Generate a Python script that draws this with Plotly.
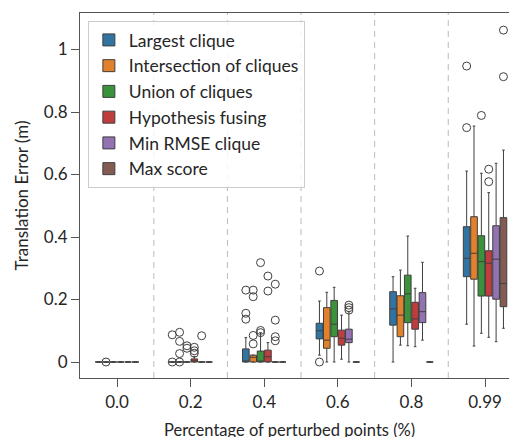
import plotly.graph_objects as go

categories = ["0.0", "0.2", "0.4", "0.6", "0.8", "0.99"]
methods = ["Largest clique", "Intersection of cliques", "Union of cliques",
           "Hypothesis fusing", "Min RMSE clique", "Max score"]
colors = ["#3274a1", "#e1812c", "#3a923a", "#c03d3e", "#9372b2", "#845b53"]

# per method: values for each category (0.0, 0.2, 0.4, 0.6, 0.8, 0.99)
q1 = {
    "Largest clique":          [0, 0, 0,     0.074, 0.118, 0.273],
    "Intersection of cliques": [0, 0, 0,     0.044, 0.081, 0.265],
    "Union of cliques":        [0, 0, 0,     0.081, 0.126, 0.211],
    "Hypothesis fusing":       [0, 0, 0,     0.054, 0.105, 0.211],
    "Min RMSE clique":         [0, 0, 0,     0.062, 0.126, 0.201],
    "Max score":               [0, 0, 0,     0,     0,     0.177],
}
median = {
    "Largest clique":          [0, 0, 0.002, 0.100, 0.170, 0.332],
    "Intersection of cliques": [0, 0, 0.015, 0.070, 0.150, 0.348],
    "Union of cliques":        [0, 0, 0.003, 0.121, 0.218, 0.321],
    "Hypothesis fusing":       [0, 0.004, 0.017, 0.076, 0.138, 0.316],
    "Min RMSE clique":         [0, 0, 0,     0.073, 0.161, 0.329],
    "Max score":               [0, 0, 0,     0,     0,     0.251],
}
q3 = {
    "Largest clique":          [0, 0, 0.042, 0.124, 0.225, 0.433],
    "Intersection of cliques": [0, 0, 0.022, 0.174, 0.212, 0.465],
    "Union of cliques":        [0, 0, 0.035, 0.197, 0.278, 0.404],
    "Hypothesis fusing":       [0, 0.010, 0.038, 0.102, 0.191, 0.356],
    "Min RMSE clique":         [0, 0, 0,     0.105, 0.222, 0.436],
    "Max score":               [0, 0, 0,     0,     0,     0.462],
}
lower_whisker = {
    "Largest clique":          [0, 0, 0, 0.022, 0,     0.121],
    "Intersection of cliques": [0, 0, 0, 0,     0.054, 0.051],
    "Union of cliques":        [0, 0, 0, 0,     0.052, 0.092],
    "Hypothesis fusing":       [0, 0, 0, 0.009, 0.049, 0.079],
    "Min RMSE clique":         [0, 0, 0, 0,     0.070, 0.065],
    "Max score":               [0, 0, 0, 0,     0,     0.108],
}
upper_whisker = {
    "Largest clique":          [0, 0, 0.078, 0.195, 0.273, 0.611],
    "Intersection of cliques": [0, 0, 0.022, 0.223, 0.294, 0.755],
    "Union of cliques":        [0, 0, 0.094, 0.239, 0.403, 0.604],
    "Hypothesis fusing":       [0, 0.018, 0.062, 0.150, 0.236, 0.542],
    "Min RMSE clique":         [0, 0, 0,     0.161, 0.319, 0.636],
    "Max score":               [0, 0, 0,     0,     0,     0.678],
}
outliers = {
    "Largest clique":          [[], [0.087, 0.0], [0.230, 0.156, 0.137], [0.291, 0.0], [], [0.750, 0.947]],
    "Intersection of cliques": [[0.0], [0.095, 0.066, 0.027, 0.0], [0.230, 0.209, 0.085, 0.058], [], [], []],
    "Union of cliques":        [[], [0.052, 0.044], [0.318, 0.101, 0.094], [], [], [0.789]],
    "Hypothesis fusing":       [[], [0.047, 0.036, 0.028], [0.275, 0.227], [], [], [0.617, 0.577]],
    "Min RMSE clique":         [[], [0.084], [0.249, 0.134, 0.081, 0.068], [0.182, 0.174, 0.166], [], []],
    "Max score":               [[], [], [], [], [], [1.062, 0.913]],
}

ytick_vals = [0, 0.2, 0.4, 0.6, 0.8, 1]
ytick_text = ["0", "0.2", "0.4", "0.6", "0.8", "1"]
x_title = "Percentage of perturbed points (%)"
y_title = "Translation Error (m)"

FONT = "Lato"
LINE = "#3f3f3f"
BOXGAP = 0.4
GROUPGAP = 0.1

pos = list(range(len(categories)))
fig = go.Figure()
for j, m in enumerate(methods):
    fig.add_trace(go.Box(
        name=m, x=pos, q1=q1[m], median=median[m], q3=q3[m],
        lowerfence=lower_whisker[m], upperfence=upper_whisker[m],
        fillcolor=colors[j], line=dict(color=LINE, width=1),
        whiskerwidth=0.4, boxpoints=False, hoverinfo="skip",
    ))

slot = (1 - BOXGAP) / len(methods)
for j, m in enumerate(methods):
    xs, ys = [], []
    for i, vals in enumerate(outliers[m]):
        for v in vals:
            xs.append(i + (j - (len(methods) - 1) / 2) * slot)
            ys.append(v)
    fig.add_trace(go.Scatter(
        x=xs, y=ys, mode="markers", showlegend=False, hoverinfo="skip",
        marker=dict(symbol="circle-open", size=8, color=LINE, line=dict(width=1)),
    ))

for i in range(len(categories) - 1):
    fig.add_vline(x=i + 0.5, line=dict(color="#bbbbbb", width=1, dash="6px,5px"), layer="below")

fig.add_annotation(text=x_title, xref="paper", yref="paper", x=0.48, y=0,
                   xanchor="center", yanchor="top", yshift=-40, showarrow=False,
                   font=dict(size=16.5))

fig.update_layout(
    width=509, height=429,
    margin=dict(l=72, r=0, t=5, b=59),
    paper_bgcolor="white", plot_bgcolor="white",
    boxmode="group", boxgap=BOXGAP, boxgroupgap=GROUPGAP,
    font=dict(family=FONT, size=16, color="#262626"),
    legend=dict(x=0.018, y=0.978, xanchor="left", yanchor="top",
                bgcolor="rgba(255,255,255,0.85)", bordercolor="#cccccc", borderwidth=1,
                font=dict(size=17.5)),
    xaxis=dict(range=[-0.503, 5.434], tickvals=pos, ticktext=categories,
               showline=True, mirror=True, linecolor="#555555", linewidth=1.2,
               ticks="outside", ticklen=8, tickcolor="#555555", showgrid=False, zeroline=False,
               tickfont=dict(size=17), automargin=False),
    yaxis=dict(range=[-0.0512, 1.1168], tickvals=ytick_vals, ticktext=ytick_text,
               showline=True, linecolor="#555555", linewidth=1.2,
               ticks="outside", ticklen=8, tickcolor="#555555", showgrid=False, zeroline=False,
               tickfont=dict(size=17),
               title=dict(text=y_title, font=dict(size=17), standoff=10),
               automargin=False),
)

fig.write_html("out.html")
